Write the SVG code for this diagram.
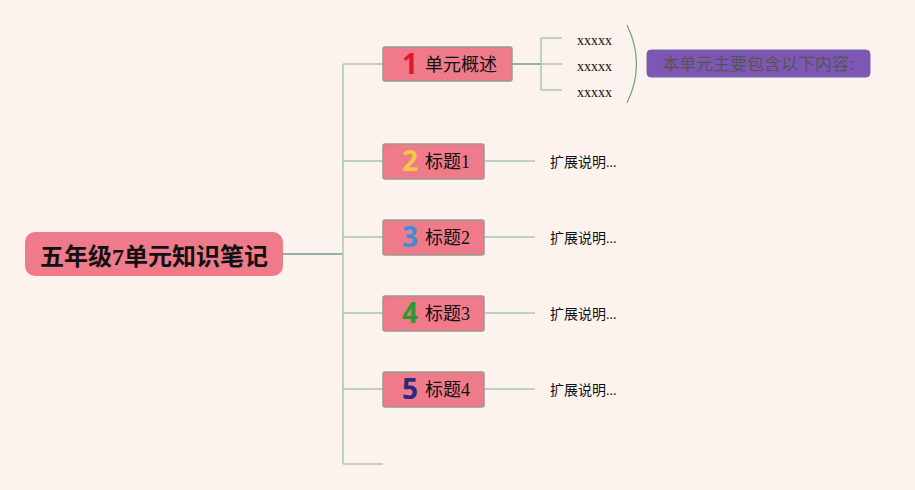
<svg xmlns="http://www.w3.org/2000/svg" width="915" height="490" viewBox="0 0 915 490">
<style>
.bg{fill:#FDF3EE}
.topic{fill:#EE7A8A;stroke:#9A9A8E;stroke-width:1.5}
.lbl{font-family:"Liberation Serif","Noto Sans CJK SC",serif;font-size:18px;fill:#111}
.num{font-family:"Noto Sans","DejaVu Sans",sans-serif;font-weight:bold;font-size:28px}
.sub{font-family:"Liberation Serif","Noto Sans CJK SC",serif;font-size:14px;fill:#111}
.trunk{stroke:#6E9E8E;stroke-width:1.5;fill:none}
.br{stroke:#A9C6B6;stroke-width:1.5;fill:none}
</style>
<rect class="bg" x="0" y="0" width="915" height="490"/>
<g id="connectors">
<path class="trunk" d="M283 254H343"/>
<path class="br" d="M343 64V464"/>
<path class="br" d="M343 64H383M343 161H383M343 237H383M343 313H383M343 389H383M343 464H383"/>
<path class="trunk" d="M512 64H541"/>
<path class="br" d="M562 38H541V90H562M541 64H562"/>
<path class="br" d="M484 161H535M484 237H535M484 313H535M484 389H535"/>
<path d="M627 25Q646 64 627 103" stroke="#6E9E8E" stroke-width="1.2" fill="none"/>
</g>
<g id="root">
<rect x="25" y="232" width="258" height="44" rx="10" fill="#EE7A8A"/>
<text x="154" y="265" text-anchor="middle" font-family="Liberation Serif,'Noto Sans CJK SC',serif" font-weight="bold" font-size="24" fill="#111">五年级7单元知识笔记</text>
</g>
<g id="topic1">
<rect class="topic" x="383" y="47" width="129" height="34" rx="2"/>
<text class="num" x="410" y="74" text-anchor="middle" fill="#E0182E">1</text>
<text class="lbl" x="425" y="71">单元概述</text>
</g>
<g id="topic2">
<rect class="topic" x="383" y="144" width="101" height="35" rx="2"/>
<text class="num" x="410" y="171" text-anchor="middle" fill="#F7C844">2</text>
<text class="lbl" x="425" y="168">标题1</text>
</g>
<g id="topic3">
<rect class="topic" x="383" y="220" width="101" height="35" rx="2"/>
<text class="num" x="410" y="247" text-anchor="middle" fill="#3A90D8">3</text>
<text class="lbl" x="425" y="244">标题2</text>
</g>
<g id="topic4">
<rect class="topic" x="383" y="296" width="101" height="35" rx="2"/>
<text class="num" x="410" y="323" text-anchor="middle" fill="#2A9A30">4</text>
<text class="lbl" x="425" y="320">标题3</text>
</g>
<g id="topic5">
<rect class="topic" x="383" y="372" width="101" height="35" rx="2"/>
<text class="num" x="410" y="399" text-anchor="middle" fill="#262A80">5</text>
<text class="lbl" x="425" y="396">标题4</text>
</g>
<g id="sub1a"><text class="sub" x="577" y="45">xxxxx</text></g>
<g id="sub1b"><text class="sub" x="577" y="71">xxxxx</text></g>
<g id="sub1c"><text class="sub" x="577" y="97">xxxxx</text></g>
<g id="summary">
<rect x="647" y="50" width="223" height="27" rx="4" fill="#7E57B5" stroke="#6A6AA8" stroke-width="1"/>
<text x="758" y="70" text-anchor="middle" font-family="'Noto Sans CJK SC',sans-serif" font-size="17" fill="#555">本单元主要包含以下内容:</text>
</g>
<g id="sub2"><text class="sub" x="550" y="167">扩展说明...</text></g>
<g id="sub3"><text class="sub" x="550" y="243">扩展说明...</text></g>
<g id="sub4"><text class="sub" x="550" y="319">扩展说明...</text></g>
<g id="sub5"><text class="sub" x="550" y="395">扩展说明...</text></g>
</svg>
